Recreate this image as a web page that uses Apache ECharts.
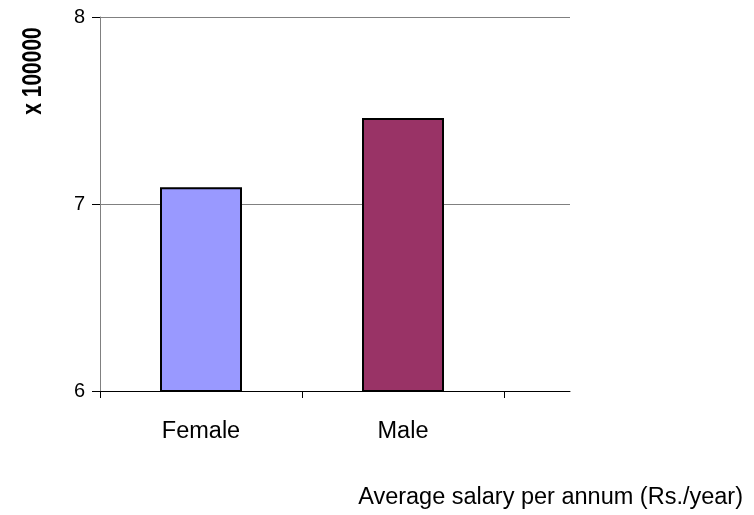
<!DOCTYPE html>
<html><head><meta charset="utf-8">
<script src="https://cdn.jsdelivr.net/npm/echarts@6/dist/echarts.min.js"></script>
<style>html,body{margin:0;padding:0;background:#fff}#c{width:754px;height:515px}</style>
</head><body><div id="c"></div>
<script>
const categories = ['Female', 'Male'];
const salaries = [7.09, 7.46];
const barColors = ['#9999FF', '#993366'];
const yTicks = [6, 7, 8];
const yTitle = 'x 100000';
const xTitle = 'Average salary per annum (Rs./year)';

const chart = echarts.init(document.getElementById('c'), null, {renderer: 'canvas'});
const FONT = 'Liberation Sans, Arial, sans-serif';
chart.setOption({
  animation: false,
  backgroundColor: '#fff',
  grid: [
    {left: 100, top: 17, width: 470, height: 374, containLabel: false},
    {left: 100, top: 17, width: 404, height: 374, containLabel: false}
  ],
  xAxis: [
    {gridIndex: 0, type: 'value', min: 0, max: 1, position: 'bottom',
      axisLine: {show: true, lineStyle: {color: '#000', width: 1}},
      axisTick: {show: false}, axisLabel: {show: false}, splitLine: {show: false}},
    {gridIndex: 1, type: 'category', data: categories, boundaryGap: true, position: 'bottom',
      axisLine: {show: false},
      axisTick: {show: true, length: 7, lineStyle: {color: '#000'}},
      axisLabel: {show: true, fontFamily: FONT, fontSize: 23.5, color: '#000', margin: 29},
      splitLine: {show: false}},
    {gridIndex: 1, type: 'category', data: categories, boundaryGap: true, position: 'bottom',
      axisLine: {show: false},
      axisTick: {show: true, inside: true, alignWithLabel: true, length: 5, lineStyle: {color: '#000'}},
      axisLabel: {show: false}, splitLine: {show: false}}
  ],
  yAxis: [
    {gridIndex: 0, type: 'value', min: yTicks[0], max: yTicks[yTicks.length - 1], interval: 1,
      axisLine: {show: true, lineStyle: {color: '#808080', width: 1}},
      axisTick: {show: true, length: 8, lineStyle: {color: '#000'}},
      axisLabel: {fontFamily: FONT, fontSize: 20, color: '#000', margin: 15},
      splitLine: {show: true, lineStyle: {color: '#808080', width: 1}}},
    {gridIndex: 1, type: 'value', min: yTicks[0], max: yTicks[yTicks.length - 1], interval: 1, show: false}
  ],
  series: [{
    type: 'bar', xAxisIndex: 1, yAxisIndex: 1,
    barWidth: 82,
    data: salaries.map((v, i) => ({value: v, itemStyle: {color: barColors[i]}})),
    itemStyle: {borderColor: '#000', borderWidth: 2}
  }],
  graphic: [
    {type: 'text', x: 33, y: 71, rotation: Math.PI / 2, scaleY: 1.3,
      style: {text: yTitle, fontFamily: FONT, fontSize: 21, fontWeight: 'bold', fill: '#000',
        align: 'center', verticalAlign: 'middle'}},
    {type: 'text', x: 743, y: 498,
      style: {text: xTitle, fontFamily: FONT, fontSize: 23.5, fill: '#000',
        align: 'right', verticalAlign: 'middle'}}
  ]
});
</script></body></html>
